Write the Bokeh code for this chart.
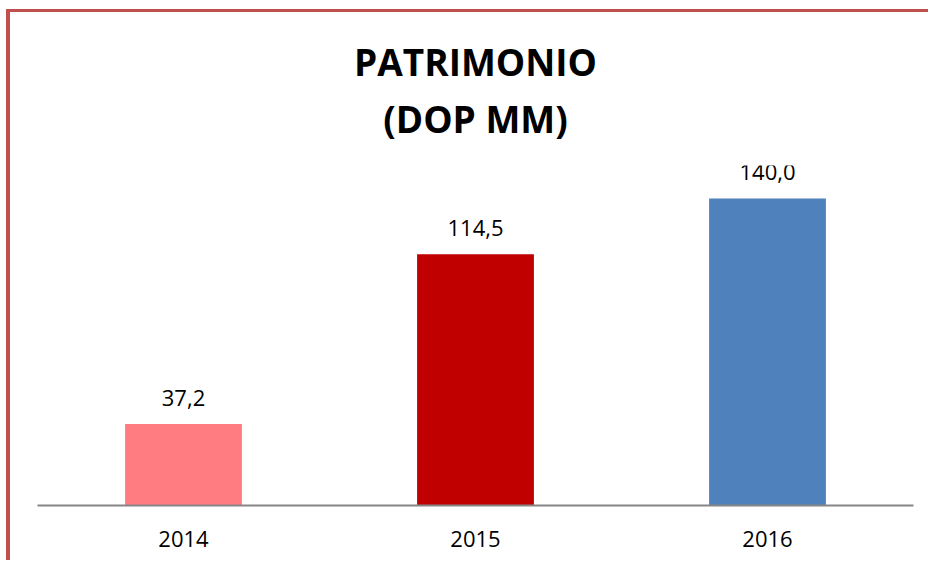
from bokeh.plotting import figure
from bokeh.models import ColumnDataSource, Range1d
from bokeh.core.properties import value
from bokeh.embed import file_html
from bokeh.resources import INLINE

years = ["2014", "2015", "2016"]
values = [37.2, 114.5, 140.0]
labels = ["37,2", "114,5", "140,0"]
colors = ["#FF7C80", "#C00000", "#4F81BD"]
title_lines = ["PATRIMONIO", "(DOP MM)"]

source = ColumnDataSource(dict(year=years, val=values, label=labels, color=colors))

p = figure(
    x_range=years,
    y_range=Range1d(0, 155),
    width=922,
    height=551,
    output_backend="svg",
    toolbar_location=None,
    min_border_left=27,
    min_border_right=19,
    min_border_top=152,
    min_border_bottom=58,
    styles={"border-left": "4px solid #C0504D", "border-top": "3px solid #C0504D",
            "margin-left": "6px", "margin-top": "9px"},
)

p.vbar(x="year", top="val", width=0.4, fill_color="color", line_color=None, source=source)
p.text(x="year", y="val", text="label", text_align="center", text_baseline="alphabetic",
       y_offset=-26, text_font=value("Open Sans"), text_font_size="22px",
       text_color="black", source=source)

p.title.text = "\n".join(title_lines)
p.title.align = "center"
if "text_align" in p.title.properties():
    p.title.text_align = "center"
p.title.text_font = "Open Sans"
p.title.text_font_size = "37px"
p.title.text_font_style = "bold"
p.title.text_color = "black"
p.title.text_line_height = 1.11
p.title.standoff = 43

p.outline_line_color = None
p.xgrid.grid_line_color = None
p.ygrid.grid_line_color = None
p.yaxis.visible = False
p.xaxis.axis_line_color = "#868686"
p.xaxis.axis_line_width = 2
p.xaxis.major_tick_line_color = None
p.xaxis.minor_tick_line_color = None
p.xaxis.major_label_text_font = "Open Sans"
p.xaxis.major_label_text_font_size = "22px"
p.xaxis.major_label_text_color = "black"
p.xaxis.major_label_standoff = 19
p.background_fill_color = "white"
p.border_fill_color = "white"

open("out.html", "w").write(file_html(p, INLINE))
